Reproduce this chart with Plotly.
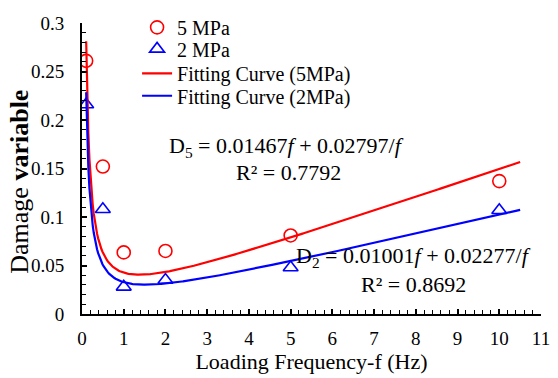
import numpy as np
import plotly.graph_objects as go

freq = [0.1, 0.5, 1, 2, 5, 10]
d_5mpa = [0.261, 0.152, 0.0635, 0.065, 0.081, 0.137]
d_2mpa = [0.216, 0.108, 0.028, 0.035, 0.048, 0.107]

# fitted coefficients D = a*f + b/f shown on chart
a5, b5 = 0.01467, 0.02797
a2, b2 = 0.01001, 0.02277
f_start, f_end = 0.1, 10.5

fc = np.linspace(f_start, f_end, 400)
fit5 = a5 * fc + b5 / fc
fit2 = a2 * fc + b2 / fc

FONT = "Liberation Serif, Times New Roman, serif"

fig = go.Figure()
fig.add_trace(go.Scatter(x=freq, y=d_5mpa, mode="markers", name="5 MPa", legend="legend",
                         marker=dict(symbol="circle-open", size=13, color="#ff0000", line=dict(width=1.6))))
fig.add_trace(go.Scatter(x=freq, y=d_2mpa, mode="markers", name="2 MPa", legend="legend2",
                         marker=dict(symbol="triangle-up-open", size=13, color="#0000ff", line=dict(width=1.6))))
fig.add_trace(go.Scatter(x=fc, y=fit5, mode="lines", name="Fitting Curve (5MPa)", legend="legend3",
                         line=dict(color="#ff0000", width=2.2)))
fig.add_trace(go.Scatter(x=fc, y=fit2, mode="lines", name="Fitting Curve (2MPa)", legend="legend4",
                         line=dict(color="#0000ff", width=2.2)))

ann_font = dict(family=FONT, size=22, color="black")
fig.add_annotation(x=4.91, y=0.172, text="D<sub>5</sub> = 0.01467<i>f</i> + 0.02797/<i>f</i>",
                   showarrow=False, font=ann_font, xanchor="center", yanchor="middle")
fig.add_annotation(x=4.96, y=0.146, text="R² = 0.7792",
                   showarrow=False, font=ann_font, xanchor="center", yanchor="middle")
fig.add_annotation(x=7.95, y=0.0585, text="D<sub>2</sub> = 0.01001<i>f</i> + 0.02277/<i>f</i>",
                   showarrow=False, font=ann_font, xanchor="center", yanchor="middle")
fig.add_annotation(x=7.95, y=0.0302, text="R² = 0.8692",
                   showarrow=False, font=ann_font, xanchor="center", yanchor="middle")
# y-axis title (placed as annotation to match its offset position)
fig.add_annotation(x=-0.137, y=0.455, xref="paper", yref="paper", text="Damage <b>variable</b>",
                   textangle=-90, showarrow=False, xanchor="center", yanchor="middle",
                   font=dict(family=FONT, size=26, color="black"))

leg_common = dict(x=0.12, xanchor="left", yanchor="middle", bgcolor="rgba(0,0,0,0)",
                  font=dict(family=FONT, size=20))
fig.update_layout(
    width=558, height=378,
    margin=dict(l=82, r=8, t=16, b=63),
    paper_bgcolor="white", plot_bgcolor="white",
    font=dict(family=FONT, size=19, color="black"),
    showlegend=True,
    legend=dict(y=0.985, **leg_common),
    legend2=dict(y=0.911, **leg_common),
    legend3=dict(y=0.827, **leg_common),
    legend4=dict(y=0.750, **leg_common),
    xaxis=dict(range=[0, 11], tickmode="linear", tick0=0, dtick=1,
               showline=True, linecolor="black", linewidth=2, mirror=False,
               ticks="inside", ticklen=5, tickwidth=1.5, tickcolor="black",
               showgrid=False, zeroline=False, ticklabelstandoff=6, ticklabeloverflow="allow",
               minor=dict(ticks="inside", ticklen=4, tickwidth=1.2, dtick=0.2, tickcolor="black", showgrid=False),
               tickfont=dict(family=FONT, size=19),
               title=dict(text="Loading Frequency-f (Hz)", font=dict(family=FONT, size=22), standoff=6)),
    yaxis=dict(range=[0, 0.3], tickmode="linear", tick0=0, dtick=0.05,
               showline=True, linecolor="black", linewidth=2, mirror=False,
               ticks="inside", ticklen=5, tickwidth=1.5, tickcolor="black",
               showgrid=False, zeroline=False, ticklabelstandoff=12, ticklabeloverflow="allow",
               minor=dict(ticks="inside", ticklen=4, tickwidth=1.2, dtick=0.01, tickcolor="black", showgrid=False),
               tickfont=dict(family=FONT, size=19)),
)

fig.write_html("out.html")
